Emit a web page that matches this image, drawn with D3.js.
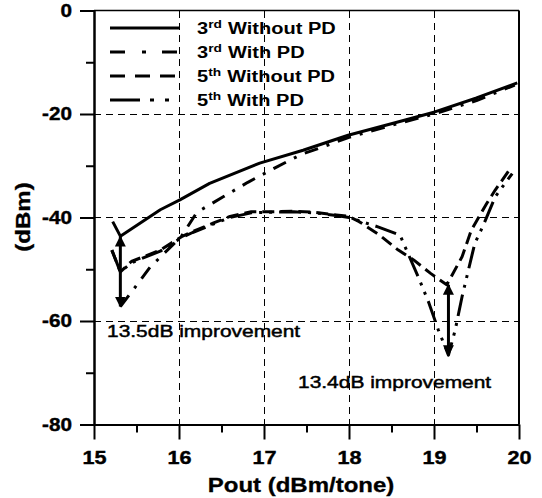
<!DOCTYPE html>
<html>
<head>
<meta charset="utf-8">
<script src="https://cdn.jsdelivr.net/npm/d3@7"></script>
<style>
  body { margin: 0; background: #fff; }
  svg { display: block; font-family: "Liberation Sans", Arial, sans-serif; }
  text { white-space: pre; }
</style>
</head>
<body>
<div id="chart"></div>
<script>
// axis ticks
const xTickVals = [15, 16, 17, 18, 19, 20];
const xMinorVals = [15.5, 16.5, 17.5, 18.5, 19.5];
const yTickVals = [0, -20, -40, -60, -80];
const yMinorVals = [-10, -30, -50, -70];
const xGridVals = [16, 17, 18, 19];
const yGridVals = [-20, -40, -60];

// series: [Pout (dBm/tone), IMD (dBm)]
const third_noPD = [[15.22,-40.8],[15.31,-43.6],[15.78,-38.5],[16.01,-36.6],[16.36,-33.4],[16.95,-29.5],
  [17.46,-27.0],[17.99,-24.1],[18.52,-21.8],[19.01,-19.6],[19.5,-16.9],[19.98,-14.0]];
const third_PD = [[15.31,-57.2],[15.46,-54.0],[15.66,-49.6],[16.03,-43.6],[16.21,-39.0],[16.52,-36.0],
  [16.81,-33.2],[17.13,-30.4],[17.44,-27.8],[17.65,-26.6],[18.0,-24.5],[18.5,-22.2],[19.0,-20.0],
  [19.5,-17.4],[19.95,-14.4]];
const fifth_noPD = [[15.21,-46.3],[15.31,-50.5],[15.44,-48.5],[15.58,-47.6],[15.78,-46.3],[16.03,-43.7],
  [16.16,-42.7],[16.4,-41.1],[16.6,-39.8],[16.85,-38.9],[17.0,-38.9],[17.35,-38.8],[17.6,-39.0],
  [17.85,-39.5],[18.0,-39.8],[18.12,-40.8],[18.36,-43.4],[18.58,-46.3],[18.76,-48.2],[18.96,-50.8],
  [19.15,-53.0],[19.33,-47.6],[19.44,-42.4],[19.62,-37.3],[19.72,-34.7],[19.9,-30.5]];
const fifth_PD = [[15.21,-46.3],[15.31,-50.5],[15.44,-48.8],[15.58,-47.8],[15.78,-46.5],[16.03,-43.9],
  [16.16,-42.9],[16.4,-41.3],[16.6,-40.0],[16.85,-39.1],[17.0,-39.0],[17.35,-38.9],[17.6,-39.1],
  [17.85,-39.6],[18.0,-40.0],[18.34,-41.8],[18.6,-43.4],[18.82,-51.7],[18.94,-56.5],[19.05,-61.7],
  [19.17,-66.6],[19.25,-61.7],[19.33,-55.3],[19.48,-45.0],[19.58,-41.5],[19.72,-36.0],[19.92,-31.5]];

const seriesOrder = ['3rd Without PD', '3rd With PD', '5th Without PD', '5th With PD'];
const legendParts = [['3', 'rd', 'Without PD'], ['3', 'rd', 'With PD'], ['5', 'th', 'Without PD'], ['5', 'th', 'With PD']];

// improvement arrows: x, top, bottom
const improveX = [15.31, 19.17];
const improveTop = [-43.7, -53.0];
const improveBottom = [-57.2, -66.6];
const improveLabels = ['13.5dB improvement', '13.4dB improvement'];

const W = 542, H = 498;
const x = d3.scaleLinear().domain([15, 20]).range([94, 519]);
const y = d3.scaleLinear().domain([-80, 0]).range([424.5, 10.5]);

const svg = d3.select('#chart').append('svg').attr('width', W).attr('height', H);
svg.append('rect').attr('width', W).attr('height', H).attr('fill', '#fff');

// grid
const grid = svg.append('g').attr('stroke', '#000').attr('stroke-width', 1)
  .attr('stroke-dasharray', '7,5').attr('shape-rendering', 'crispEdges');
grid.selectAll('.gx').data(xGridVals).join('line')
  .attr('x1', d => x(d)).attr('x2', d => x(d)).attr('y1', y(0)).attr('y2', y(-80));
grid.selectAll('.gy').data(yGridVals).join('line')
  .attr('y1', d => y(d)).attr('y2', d => y(d)).attr('x1', x(15)).attr('x2', x(20));

// frame top/right
svg.append('line').attr('x1', x(15)).attr('x2', x(20)).attr('y1', y(0)).attr('y2', y(0))
  .attr('stroke', '#000').attr('stroke-width', 1.5);
svg.append('line').attr('x1', x(20)).attr('x2', x(20)).attr('y1', y(0)).attr('y2', y(-80))
  .attr('stroke', '#000').attr('stroke-width', 2);

// axes
const sx = 1.2;
const fmt = d => String(d);
const boldText = sel => sel.attr('font-size', 18).attr('font-weight', 'bold')
  .attr('font-family', '"Liberation Sans", Arial, sans-serif').attr('fill', '#000')
  .attr('stroke', '#000').attr('stroke-width', 0.4);

const xAxis = svg.append('g').attr('transform', `translate(0,${y(-80)})`)
  .call(d3.axisBottom(x).tickValues(xTickVals).tickSize(15).tickSizeOuter(0).tickPadding(12).tickFormat(fmt));
xAxis.select('.domain').attr('stroke-width', 2);
xAxis.selectAll('line').attr('stroke-width', 2);
xAxis.selectAll('text').call(boldText).attr('transform', `scale(${sx},1)`);
svg.append('g').attr('transform', `translate(0,${y(-80)})`)
  .call(d3.axisBottom(x).tickValues(xMinorVals).tickSize(8).tickSizeOuter(0).tickFormat(''))
  .call(g => g.select('.domain').remove())
  .selectAll('line').attr('stroke-width', 2);

const yAxis = svg.append('g').attr('transform', `translate(${x(15)},0)`)
  .call(d3.axisLeft(y).tickValues(yTickVals).tickSize(14).tickSizeOuter(0).tickPadding(8).tickFormat(fmt));
yAxis.select('.domain').attr('stroke-width', 2.5);
yAxis.selectAll('line').attr('stroke-width', 2);
yAxis.selectAll('text').call(boldText)
  .attr('x', -22 / 1.15).attr('transform', 'scale(1.15,1)');
svg.append('g').attr('transform', `translate(${x(15)},0)`)
  .call(d3.axisLeft(y).tickValues(yMinorVals).tickSize(8).tickSizeOuter(0).tickFormat(''))
  .call(g => g.select('.domain').remove())
  .selectAll('line').attr('stroke-width', 2);

// axis titles
svg.append('text').attr('transform', `translate(23,217) rotate(-90) scale(${sx},1)`)
  .attr('text-anchor', 'middle').attr('dominant-baseline', 'central')
  .attr('font-size', 20).attr('font-weight', 'bold').attr('stroke', '#000').attr('stroke-width', 0.3)
  .text('(dBm)');
svg.append('text').attr('transform', `translate(301,492) scale(${sx},1)`)
  .attr('text-anchor', 'middle').attr('font-size', 20).attr('font-weight', 'bold')
  .attr('stroke', '#000').attr('stroke-width', 0.3)
  .text('Pout (dBm/tone)');

// series
const line = d3.line().x(d => x(d[0])).y(d => y(d[1]));
const seriesData = [third_noPD, third_PD, fifth_noPD, fifth_PD];
const plotDash = [null, '14,9,3,9', '12,6', '22,7,3,7,3,7'];
const legendDash = [null, '15,17,4,16', '15,10', '30,10,4,11,4,11'];

svg.append('g').selectAll('path').data(seriesData).join('path')
  .attr('d', line)
  .attr('fill', 'none').attr('stroke', '#000').attr('stroke-width', 3)
  .attr('stroke-linejoin', 'round')
  .attr('stroke-dasharray', (d, i) => plotDash[i]);

// improvement arrows
svg.append('defs').append('marker')
  .attr('id', 'head').attr('viewBox', '0 0 10 10')
  .attr('refX', 9).attr('refY', 5)
  .attr('markerUnits', 'userSpaceOnUse').attr('markerWidth', 11).attr('markerHeight', 11)
  .attr('orient', 'auto-start-reverse')
  .append('path').attr('d', 'M0,0 L10,5 L0,10 z').attr('fill', '#000');

svg.append('g').selectAll('line').data(improveX).join('line')
  .attr('x1', d => x(d)).attr('x2', d => x(d))
  .attr('y1', (d, i) => y(improveTop[i])).attr('y2', (d, i) => y(improveBottom[i]))
  .attr('stroke', '#000').attr('stroke-width', 3)
  .attr('marker-start', 'url(#head)').attr('marker-end', 'url(#head)');

const labelPos = [[107, 336.5], [298, 388]];
svg.append('g').selectAll('text').data(improveLabels).join('text')
  .attr('transform', (d, i) => `translate(${labelPos[i][0]},${labelPos[i][1]}) scale(1.27,1)`)
  .attr('font-size', 16.5).attr('fill', '#000').attr('stroke', '#000').attr('stroke-width', 0.45)
  .text(d => d);

// legend
const legend = svg.append('g');
seriesOrder.forEach((name, i) => {
  const ly = 28 + 24 * i;
  legend.append('line')
    .attr('x1', 110).attr('x2', 180).attr('y1', ly).attr('y2', ly)
    .attr('stroke', '#000').attr('stroke-width', 3)
    .attr('stroke-dasharray', legendDash[i]);
  const t = legend.append('text')
    .attr('transform', `translate(197,${ly + 6}) scale(1.25,1)`)
    .attr('font-weight', 'bold').attr('font-size', 16);
  t.append('tspan').text(legendParts[i][0]);
  t.append('tspan').attr('font-size', 11).attr('dy', -6).text(legendParts[i][1]);
  t.append('tspan').attr('dy', 6).attr('dx', 5).text(legendParts[i][2]);
});
</script>
</body>
</html>
